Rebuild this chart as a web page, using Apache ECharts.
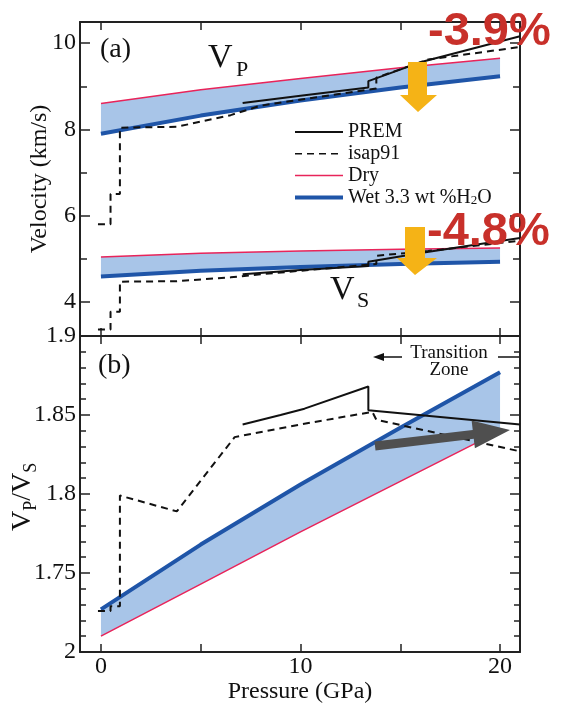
<!DOCTYPE html>
<html><head><meta charset="utf-8">
<script src="https://cdn.jsdelivr.net/npm/echarts@6/dist/echarts.min.js"></script>
<style>html,body{margin:0;padding:0;background:#fff}#c{width:561px;height:713px}</style>
</head><body><div id="c"></div>
<script>
// ---------- data ----------
const modelP   = [0, 5, 10, 15, 20];
const dryVp    = [8.60, 8.92, 9.18, 9.43, 9.65];
const wetVp    = [7.90, 8.32, 8.67, 8.97, 9.23];
const dryVs    = [5.04, 5.13, 5.18, 5.22, 5.25];
const wetVs    = [4.59, 4.72, 4.81, 4.88, 4.93];
const dryRatio = [1.710, 1.743, 1.776, 1.808, 1.840];
const wetRatio = [1.727, 1.768, 1.806, 1.842, 1.877];

const premP     = [7.1, 10, 13.4, 13.4, 16.1, 21];
const premVp    = [8.61, 8.78, 8.97, 9.12, 9.57, 10.16];
const premVs    = [4.64, 4.74, 4.83, 4.93, 5.14, 5.48];
const premRP    = [7.1, 9, 10.2, 13.4, 13.4, 21];
const premRatio = [1.844, 1.850, 1.854, 1.868, 1.853, 1.844];

const iaspP     = [-0.15, 0.48, 0.48, 0.95, 0.95, 3.8, 6.5, 8, 13.8, 13.8, 16.4, 21];
const iaspVp    = [5.80, 5.80, 6.50, 6.50, 8.04, 8.06, 8.33, 8.55, 8.95, 9.20, 9.62, 9.91];
const iaspVs    = [3.36, 3.36, 3.77, 3.77, 4.47, 4.48, 4.57, 4.64, 4.88, 5.07, 5.18, 5.42];
const iaspRP    = [-0.15, 0.48, 0.48, 0.95, 0.95, 3.8, 6.7, 10, 13.6, 13.8, 21];
const iaspRatio = [1.726, 1.726, 1.729, 1.729, 1.799, 1.789, 1.836, 1.844, 1.852, 1.847, 1.827];

const xTicks = [0, 5, 10, 15, 20];
const xTickLabels = [0, 10, 20];
const vTickLabels = [4, 6, 8, 10];
const vMinorTicks = [5, 7, 9];

// ---------- styles ----------
const SERIF = '"Liberation Serif", "Times New Roman", serif';
const SANS = '"Liberation Sans", Arial, sans-serif';
const AX = '#222';
const FILL = '#a8c5e8';
const RED = '#e8245a';
const BLUE = '#1f55a8';
const WET = 'Wet 3.3 wt %H2O';

const pairs = (xs, ys) => xs.map((x, i) => [x, ys[i]]);

function xAx(grid, pos, withLabels, name) {
  const a = {
    type: 'value', gridIndex: grid, position: pos, min: -1.05, max: 21,
    axisLine: {show: true, onZero: false, lineStyle: {color: AX, width: 2}},
    axisTick: {show: true, inside: true, length: 8, customValues: xTicks, lineStyle: {color: AX, width: 1.5}},
    axisLabel: withLabels ? {show: true, customValues: xTickLabels, fontSize: 24, fontFamily: SERIF, color: '#111', margin: 3} : {show: false},
    splitLine: {show: false}
  };
  if (name) {
    a.name = name; a.nameLocation = 'middle'; a.nameGap = 24;
    a.nameTextStyle = {fontSize: 24, fontFamily: SERIF, color: '#111'};
  }
  return a;
}
function yTop(pos, ticks, len, labels, name) {
  const a = {
    type: 'value', gridIndex: 0, position: pos, min: 3.21, max: 10.49,
    axisLine: {show: true, onZero: false, lineStyle: {color: AX, width: 2}},
    axisTick: {show: true, inside: true, length: len, customValues: ticks, lineStyle: {color: AX, width: 1.5}},
    axisLabel: labels ? {show: true, customValues: labels, fontSize: 24, fontFamily: SERIF, color: '#111', margin: 4} : {show: false},
    splitLine: {show: false}
  };
  if (name) {
    a.name = name; a.nameLocation = 'middle'; a.nameGap = 28; a.nameRotate = 90;
    a.nameMoveOverlap = false;
    a.nameTextStyle = {fontSize: 24, fontFamily: SERIF, color: '#111'};
  }
  return a;
}
function yBot(pos, labels) {
  return {
    type: 'value', gridIndex: 1, position: pos, min: 1.7, max: 1.9, interval: 0.05,
    axisLine: {show: true, onZero: false, lineStyle: {color: AX, width: 2}},
    axisTick: {show: true, inside: true, length: 10, lineStyle: {color: AX, width: 1.5}},
    minorTick: {show: true, splitNumber: 5, length: 6, lineStyle: {color: AX, width: 1.5}},
    axisLabel: labels ? {show: true, fontSize: 24, fontFamily: SERIF, color: '#111', margin: 4,
      formatter: v => Math.abs(v - 1.7) < 1e-6 ? '2' : String(+(+v).toFixed(2))} : {show: false},
    splitLine: {show: false}
  };
}
function band(xi, yi, xs, lo, hi) {
  return {
    type: 'custom', xAxisIndex: xi, yAxisIndex: yi, silent: true, z: 1, clip: true,
    data: [[xs[0], lo[0]]],
    renderItem: function (params, api) {
      const pts = [];
      for (let i = 0; i < xs.length; i++) pts.push(api.coord([xs[i], hi[i]]));
      for (let i = xs.length - 1; i >= 0; i--) pts.push(api.coord([xs[i], lo[i]]));
      return {type: 'polygon', shape: {points: pts}, style: {fill: FILL}};
    }
  };
}
function line(name, xi, yi, xs, ys, color, width, dashed, z) {
  return {
    type: 'line', name: name, xAxisIndex: xi, yAxisIndex: yi, data: pairs(xs, ys),
    symbol: 'none', showSymbol: false, silent: true, z: z || 3,
    lineStyle: {color: color, width: width, type: dashed ? [7, 5] : 'solid'},
    itemStyle: {color: color}
  };
}

// ---------- annotations ----------
function T(x, y, text, font, fill, align) {
  return {type: 'text', x: x, y: y, z: 20, silent: true,
    style: {text: text, font: font, fill: fill || '#111', align: align || 'left', textAlign: align || 'left',
      verticalAlign: 'middle', textVerticalAlign: 'middle'}};
}
function grayArrow(sx, sy, ex, ey, hw, hl, hh) {
  const L = Math.hypot(ex - sx, ey - sy), dx = (ex - sx) / L, dy = (ey - sy) / L;
  const nx = -dy, ny = dx;
  const bx = ex - dx * hl, by = ey - dy * hl;
  return [[sx + nx * hw, sy + ny * hw], [bx + nx * hw, by + ny * hw], [bx + nx * hh, by + ny * hh], [ex, ey],
          [bx - nx * hh, by - ny * hh], [bx - nx * hw, by - ny * hw], [sx - nx * hw, sy - ny * hw]];
}
const ORANGE = '#f5b316';
const graphics = [
  T(100, 50, '(a)', '28px ' + SERIF),
  T(98, 366, '(b)', '28px ' + SERIF),
  T(208, 58, 'V', '34px ' + SERIF),
  T(236, 70, 'P', '22px ' + SERIF),
  T(330, 290, 'V', '34px ' + SERIF),
  T(357, 301, 'S', '22px ' + SERIF),
  T(449, 353, 'Transition', '19px ' + SERIF, '#111', 'center'),
  T(449, 370, 'Zone', '19px ' + SERIF, '#111', 'center'),
  {type: 'line', z: 20, silent: true, shape: {x1: 382, y1: 357, x2: 402, y2: 357}, style: {stroke: '#111', lineWidth: 1.5}},
  {type: 'polygon', z: 20, silent: true, shape: {points: [[373, 357], [384, 353], [384, 361]]}, style: {fill: '#111'}},
  {type: 'line', z: 20, silent: true, shape: {x1: 498, y1: 357, x2: 519, y2: 357}, style: {stroke: '#111', lineWidth: 1.5}},
  {type: 'polygon', z: 20, silent: true, shape: {points: [[408, 62], [427, 62], [427, 95], [437, 95], [418, 112], [400, 95], [408, 95]]}, style: {fill: ORANGE}},
  {type: 'polygon', z: 20, silent: true, shape: {points: [[405, 227], [425, 227], [425, 258], [437, 258], [415, 275], [397, 258], [405, 258]]}, style: {fill: ORANGE}},
  {type: 'polygon', z: 20, silent: true, shape: {points: grayArrow(375, 446, 510, 430, 4.5, 37, 14)}, style: {fill: '#4f4f4f'}},
  T(428, 32, '-3.9%', 'bold 47px ' + SANS, '#c8302a'),
  T(427, 232, '-4.8%', 'bold 47px ' + SANS, '#c8302a'),
  {type: 'group', x: 23, y: 497, rotation: Math.PI / 2, z: 20, silent: true, children: [
    T(-34, 0, 'V', '28px ' + SERIF),
    T(-13.8, 8, 'P', '18px ' + SERIF),
    T(-3.8, 0, '/', '28px ' + SERIF),
    T(4, 0, 'V', '28px ' + SERIF),
    T(24.2, 8, 'S', '18px ' + SERIF)
  ]}
];

const option = {
  backgroundColor: '#fff',
  animation: false,
  textStyle: {fontFamily: SERIF},
  grid: [
    {left: 80, top: 22, width: 440, height: 314},
    {left: 80, top: 336, width: 440, height: 316}
  ],
  xAxis: [
    xAx(0, 'bottom', false),
    xAx(0, 'top', false),
    xAx(1, 'bottom', true, 'Pressure (GPa)'),
    xAx(1, 'top', false)
  ],
  yAxis: [
    yTop('left', vTickLabels, 10, vTickLabels, 'Velocity (km/s)'),
    Object.assign(yTop('left', vMinorTicks, 7, null), {axisLine: {show: false, onZero: false}}),
    yTop('right', vTickLabels, 10, null),
    Object.assign(yTop('right', vMinorTicks, 7, null), {axisLine: {show: false, onZero: false}}),
    yBot('left', true),
    yBot('right', false)
  ],
  legend: {
    orient: 'vertical', left: 293, top: 122, padding: 0, itemWidth: 48, itemHeight: 12, itemGap: 1.8,
    selectedMode: false,
    itemStyle: {opacity: 0},
    data: [
      {name: 'PREM', lineStyle: {width: 2}},
      {name: 'isap91', lineStyle: {width: 1.5}},
      {name: 'Dry', lineStyle: {width: 1.5}},
      {name: WET, lineStyle: {width: 4}}
    ],
    formatter: n => n === WET ? 'Wet 3.3 wt %H{sub|2}O' : n,
    textStyle: {fontFamily: SERIF, fontSize: 20, color: '#111', lineHeight: 20,
      rich: {sub: {fontFamily: SERIF, fontSize: 13, color: '#111', lineHeight: 6, verticalAlign: 'bottom'}}}
  },
  graphic: graphics,
  series: [
    band(0, 0, modelP, wetVp, dryVp),
    band(0, 0, modelP, wetVs, dryVs),
    band(2, 4, modelP, dryRatio, wetRatio),
    line('PREM', 0, 0, premP, premVp, '#111', 2, false, 5),
    line('isap91', 0, 0, iaspP, iaspVp, '#111', 2, true, 5),
    line('Dry', 0, 0, modelP, dryVp, RED, 1.5, false, 3),
    line(WET, 0, 0, modelP, wetVp, BLUE, 4, false, 4),
    line('PREM', 0, 0, premP, premVs, '#111', 2, false, 5),
    line('isap91', 0, 0, iaspP, iaspVs, '#111', 2, true, 5),
    line('Dry', 0, 0, modelP, dryVs, RED, 1.5, false, 3),
    line(WET, 0, 0, modelP, wetVs, BLUE, 4, false, 4),
    line('PREM', 2, 4, premRP, premRatio, '#111', 2, false, 5),
    line('isap91', 2, 4, iaspRP, iaspRatio, '#111', 2, true, 5),
    line('Dry', 2, 4, modelP, dryRatio, RED, 1.5, false, 3),
    line(WET, 2, 4, modelP, wetRatio, BLUE, 4, false, 4)
  ]
};
const chart = echarts.init(document.getElementById('c'), null, {renderer: 'canvas'});
chart.setOption(option);
</script></body></html>
